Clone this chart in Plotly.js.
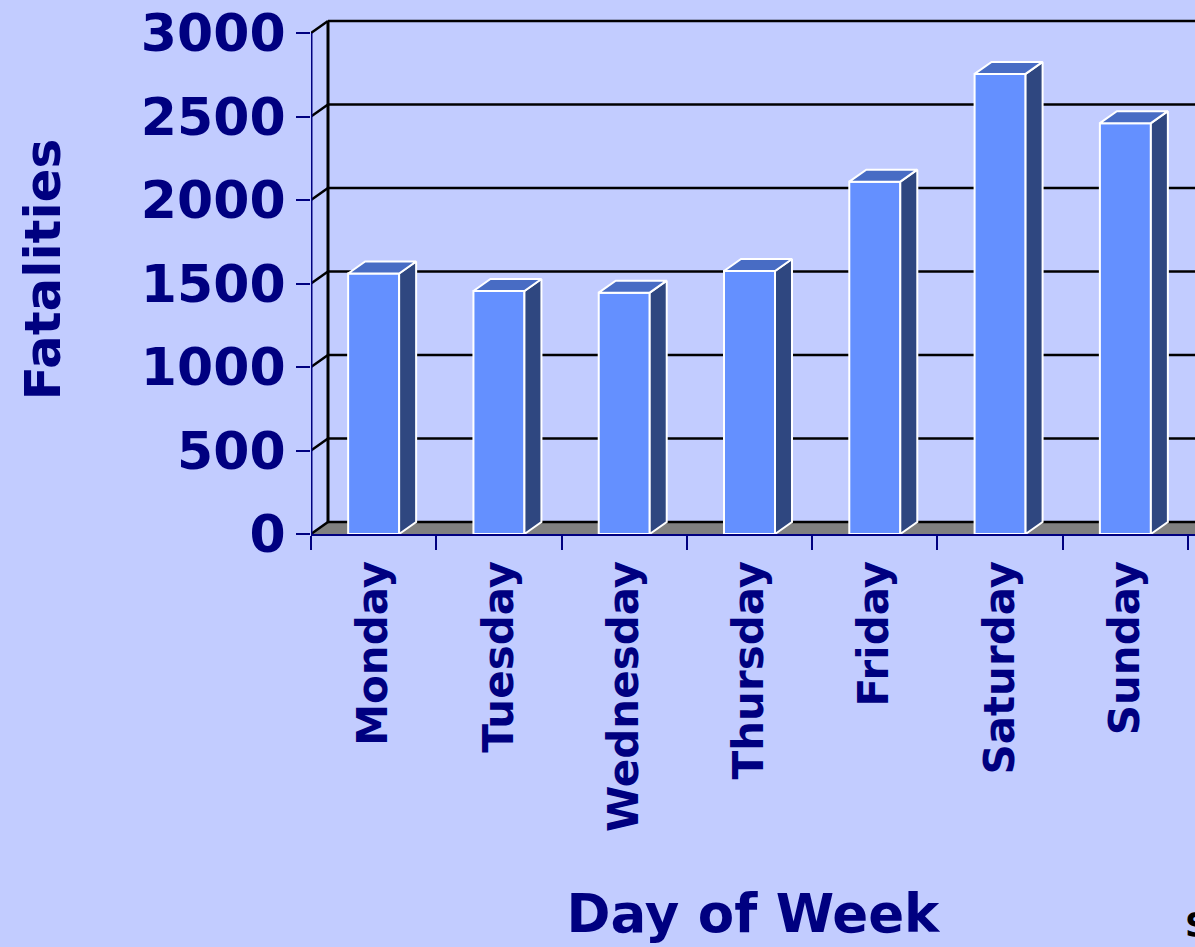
<!DOCTYPE html>
<html>
<head>
<meta charset="utf-8">
<script src="https://cdn.plot.ly/plotly-3.0.1.min.js"></script>
<style>
html,body{margin:0;padding:0;background:#C2CCFF;overflow:hidden;}
#chart{width:1195px;height:947px;}
</style>
</head>
<body>
<div id="chart"></div>
<script>
// ---- data ----
const days = ["Monday","Tuesday","Wednesday","Thursday","Friday","Saturday","Sunday"];
const fatalities = [1560, 1455, 1445, 1575, 2110, 2755, 2460];
const yTicks = [0, 500, 1000, 1500, 2000, 2500, 3000];

// ---- styling / geometry ----
const NAVY = "#000080";
const BG = "#C2CCFF";
const FRONT = "#6490FF", SIDE = "#2F4780", TOP = "#486CC4";
const xMin = -0.5, xMax = 6.5557;
const yMin = 0, yMax = 3167.7;
const DX = 0.1357;   // depth offset in x units
const DY = 71.9;     // depth offset in y units
const BW = 0.407;    // bar width
const FONT = "DejaVu Sans";

const idx = days.map((d, i) => i);

// side faces and top faces built from the data
const sx = [], sy = [], tx = [], ty = [];
idx.forEach(i => {
  const v = fatalities[i];
  const l = i - BW / 2, r = i + BW / 2;
  sx.push(r, r + DX, r + DX, r, r, null);
  sy.push(0, DY, v + DY, v, 0, null);
  tx.push(l, l + DX, r + DX, r, l, null);
  ty.push(v, v + DY, v + DY, v, v, null);
});

const traces = [
  {type: "bar", x: idx, y: fatalities, width: BW,
   marker: {color: FRONT, line: {color: "white", width: 2}},
   hoverinfo: "skip", showlegend: false},
  {type: "scatter", mode: "lines", x: sx, y: sy, fill: "toself", fillcolor: SIDE,
   line: {color: "white", width: 2}, hoverinfo: "skip", showlegend: false},
  {type: "scatter", mode: "lines", x: tx, y: ty, fill: "toself", fillcolor: TOP,
   line: {color: "white", width: 2}, hoverinfo: "skip", showlegend: false}
];

// back wall, floor, gridlines as shapes below the traces
const shapes = [];
shapes.push({type: "path", layer: "below", xref: "x", yref: "y",
  path: `M ${xMin} 0 L ${xMin + DX} ${DY} L ${xMax} ${DY} L ${xMax} 0 Z`,
  fillcolor: "#808080", line: {width: 0}});
yTicks.forEach(v => {
  shapes.push({type: "line", layer: "below", xref: "x", yref: "y",
    x0: xMin + DX, y0: v + DY, x1: xMax, y1: v + DY, line: {color: "black", width: 2.5}});
  shapes.push({type: "line", layer: "below", xref: "x", yref: "y",
    x0: xMin, y0: v, x1: xMin + DX, y1: v + DY, line: {color: "black", width: 2.5}});
});
shapes.push({type: "line", layer: "below", xref: "x", yref: "y",
  x0: xMin + DX, y0: DY, x1: xMin + DX, y1: yTicks[yTicks.length - 1] + DY,
  line: {color: "black", width: 3}});
shapes.push({type: "line", layer: "below", xref: "x", yref: "y",
  x0: xMin, y0: 0, x1: xMin, y1: yTicks[yTicks.length - 1],
  line: {color: NAVY, width: 3}});

const layout = {
  width: 1195, height: 947,
  margin: {l: 311, r: 0, t: 5, b: 413},
  paper_bgcolor: BG, plot_bgcolor: BG,
  showlegend: false,
  xaxis: {
    range: [xMin, xMax], fixedrange: true,
    tickmode: "array", tickvals: idx, ticktext: days,
    tickangle: -90, ticks: "", ticklabelstandoff: 8,
    tickfont: {family: FONT, size: 42, color: NAVY, weight: "bold"},
    minor: {tickmode: "linear", tick0: -0.5, dtick: 1, ticks: "outside",
            ticklen: 14, tickwidth: 2, tickcolor: NAVY, showgrid: false},
    showgrid: false, zeroline: false,
    showline: true, linecolor: NAVY, linewidth: 2,
    title: {text: "Day of Week", standoff: 64,
            font: {family: FONT, size: 53, color: NAVY, weight: "bold"}}
  },
  yaxis: {
    range: [yMin, yMax], fixedrange: true,
    tickmode: "array", tickvals: yTicks,
    ticks: "outside", ticklen: 14, tickwidth: 2, tickcolor: NAVY,
    ticklabelstandoff: 0,
    tickfont: {family: FONT, size: 52, color: NAVY, weight: "bold"},
    showgrid: false, zeroline: false, showline: false,
    title: {text: "Fatalities", standoff: 64,
            font: {family: FONT, size: 50, color: NAVY, weight: "bold"}}
  },
  shapes: shapes,
  annotations: [
    {xref: "paper", yref: "paper", x: 1, y: 0, yshift: -413, xshift: -12,
     xanchor: "left", yanchor: "bottom", showarrow: false, text: "S",
     font: {family: FONT, size: 34, color: "black", weight: "bold"}}
  ]
};

Plotly.newPlot("chart", traces, layout, {displayModeBar: false, staticPlot: true});
</script>
</body>
</html>
